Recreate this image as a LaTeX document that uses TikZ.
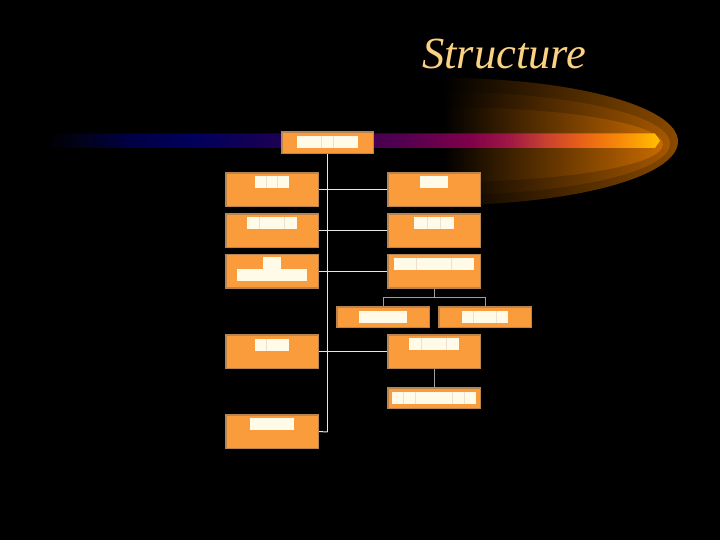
\documentclass[tikz,border=0pt]{standalone}
\usepackage{fontspec}
\setmainfont{Liberation Serif}
\definecolor{boxor}{HTML}{FA9B3C}
\definecolor{boxbd}{HTML}{B88450}
\definecolor{cream}{HTML}{FFFBE8}
\definecolor{sepc}{HTML}{EDE0CC}
\definecolor{titlec}{HTML}{FAD282}
\definecolor{linew}{HTML}{E8E8E8}
\definecolor{lineg}{HTML}{A0A0A0}
\definecolor{ba}{HTML}{02021A}
\definecolor{bb}{HTML}{000045}
\definecolor{bc}{HTML}{00005A}
\definecolor{bd}{HTML}{150055}
\definecolor{be}{HTML}{35004F}
\definecolor{bf}{HTML}{52004F}
\definecolor{bg}{HTML}{80004A}
\definecolor{bh}{HTML}{A01845}
\definecolor{bi}{HTML}{C84030}
\definecolor{bj}{HTML}{E86018}
\definecolor{bk}{HTML}{F88A08}
\definecolor{bl}{HTML}{FFC000}
\definecolor{glowa}{HTML}{8A4A00}
\definecolor{glowb}{HTML}{A65800}
\definecolor{glowc}{HTML}{C86A00}
\pgfdeclarehorizontalshading{barshade}{100bp}{color(0bp)=(black); color(25bp)=(black); color(27.85bp)=(ba); color(31.9bp)=(bb); color(36.8bp)=(bc); color(42.5bp)=(bd); color(48.15bp)=(be); color(53.85bp)=(bf); color(59.55bp)=(bg); color(62.8bp)=(bh); color(65.65bp)=(bi); color(68.5bp)=(bj); color(71.75bp)=(bk); color(75bp)=(bl); color(100bp)=(bl)}
\newcommand\tofu[2]{\textcolor{cream}{\rule{#2pt}{12pt}}\foreach\i in {2,...,#1}{\textcolor{sepc}{\rule{0.5pt}{12pt}}\textcolor{cream}{\rule{#2pt}{12pt}}}}
\tikzset{
  orgbox/.style={rectangle, fill=boxor, draw=boxbd, line width=0.6pt, minimum width=92pt, minimum height=33pt, inner sep=0pt},
  glyphs/.style={inner sep=0pt, anchor=north, align=center, font=\fontsize{12}{13}\selectfont},
  wline/.style={draw=linew, line width=1pt},
  gline/.style={draw=lineg, line width=1pt}
}
\begin{document}
\begin{tikzpicture}[x=1pt,y=-1pt]
\fill[black] (0,0) rectangle (720,540);
\useasboundingbox (0,0) rectangle (720,540);
% glow layers
\shade[left color=black, right color=glowa] (443,78) arc[start angle=-90, end angle=90, x radius=235, y radius=63.5] -- cycle;
\shade[left color=black, right color=glowb] (443,92) arc[start angle=-90, end angle=90, x radius=227, y radius=51.5] -- cycle;
\shade[left color=black, right color=glowc] (443,107) arc[start angle=-90, end angle=90, x radius=220, y radius=37.5] -- cycle;
% bar
\shade[shading=barshade] (45,133.5) -- (655,133.5) -- (660,140.75) -- (655,148) -- (45,148) -- cycle;
% title
\node[anchor=base west, inner sep=0pt, text=titlec, font=\fontsize{44.5}{50}\selectfont\itshape] (title) at (422,69) {Structure};
% boxes
\node[orgbox, minimum width=91pt, minimum height=21pt] (top) at (327.5,142.5) {};
\node[orgbox] (L1) at (272,189.5) {};
\node[orgbox] (L2) at (272,230.5) {};
\node[orgbox] (L3) at (272,271) {};
\node[orgbox] (L4) at (272,351.5) {};
\node[orgbox] (L5) at (272,431.5) {};
\node[orgbox] (R1) at (434,189.5) {};
\node[orgbox] (R2) at (434,230.5) {};
\node[orgbox] (R3) at (434,271) {};
\node[orgbox] (R4) at (434,351.5) {};
\node[orgbox, minimum height=20pt] (T1) at (383,317) {};
\node[orgbox, minimum height=20pt] (T2) at (485,317) {};
\node[orgbox, minimum height=20pt] (S) at (434,398) {};
% connectors
\coordinate (vend) at (327.5,432);
\coordinate (bjn) at (434,297.5);
\draw[wline] (top.south) -- (vend);
\draw[wline] (L1.east) -- (R1.west);
\draw[wline] (L2.east) -- (R2.west);
\draw[wline] (L3.east) -- (R3.west);
\draw[wline] (L4.east) -- (R4.west);
\draw[wline] (L5.east) -- (vend);
\draw[gline] (R3.south) -- (bjn);
\draw[gline] (T1.north) |- (bjn) -| (T2.north);
\draw[gline] (R4.south) -- (S.north);
% redraw box borders over lines
\foreach \b in {top,L1,L2,L3,L4,L5,R1,R2,R3,R4,T1,T2,S}{\draw[draw=boxbd, line width=0.6pt] (\b.north west) rectangle (\b.south east);}
% glyph placeholders
\node[glyphs] (ttop) at ([yshift=-4pt]top.north) {\tofu{5}{11.9}};
\node[glyphs] (tL1) at ([yshift=-3.5pt]L1.north) {\tofu{3}{10.7}};
\node[glyphs] (tR1) at ([yshift=-3.5pt]R1.north) {\tofu{2}{13.8}};
\node[glyphs] (tL2) at ([yshift=-3.5pt]L2.north) {\tofu{4}{12.1}};
\node[glyphs] (tR2) at ([yshift=-3.5pt]R2.north) {\tofu{3}{12.7}};
\node[glyphs, align=center] (tL3) at ([yshift=-3pt]L3.north) {\tofu{2}{8.8}\\[-1pt]\tofu{6}{11.4}};
\node[glyphs] (tR3) at ([yshift=-4pt]R3.north) {\tofu{7}{11.1}};
\node[glyphs] (tT1) at ([yshift=-4pt]T1.north) {\tofu{4}{11.4}};
\node[glyphs] (tT2) at ([yshift=-4pt]T2.north) {\tofu{4}{11.1}};
\node[glyphs] (tL4) at ([yshift=-4pt]L4.north) {\tofu{3}{11}};
\node[glyphs] (tR4) at ([yshift=-3.5pt]R4.north) {\tofu{4}{12.1}};
\node[glyphs] (tS) at ([yshift=-4pt]S.north) {\tofu{7}{11.7}};
\node[glyphs] (tL5) at ([yshift=-3.5pt]L5.north) {\tofu{4}{10.4}};
\end{tikzpicture}
\end{document}
